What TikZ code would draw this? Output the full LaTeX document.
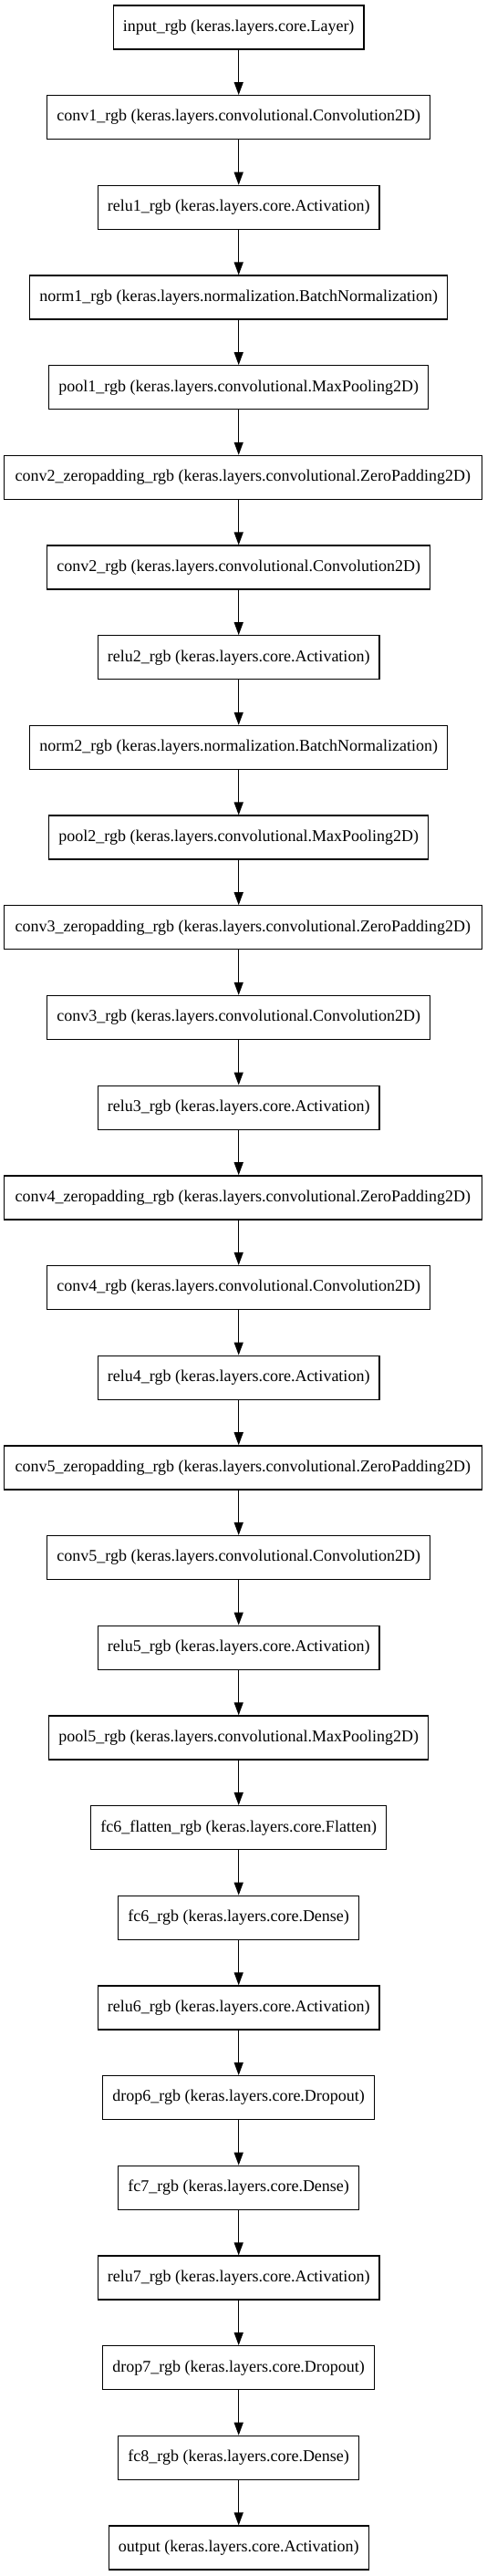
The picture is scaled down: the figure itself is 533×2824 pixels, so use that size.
\documentclass[tikz,border=0pt]{standalone}
\usepackage{fontspec}
\setmainfont{Liberation Serif}
\usetikzlibrary{arrows.meta}
\begin{document}
\begin{tikzpicture}[x=1pt,y=1pt,
  layer/.style={draw,line width=1.3pt,rectangle,minimum height=48pt,inner xsep=10.6pt,inner ysep=0pt,
    font=\fontsize{18}{20}\selectfont},
  wide/.style={minimum width=524pt,inner xsep=0pt},
  arr/.style={line width=1.3pt,-{Triangle[length=14pt,width=10pt]}}]
\useasboundingbox (0,0) rectangle (533,-2824);
\coordinate (c) at (261.7,0);
\foreach \x/\w/\t [count=\i from 0] in {
  261.7/{}/{input\_rgb (keras.layers.core.Layer)},
  261.7/{}/{conv1\_rgb (keras.layers.convolutional.Convolution2D)},
  261.7/{}/{relu1\_rgb (keras.layers.core.Activation)},
  261.7/{}/{norm1\_rgb (keras.layers.normalization.BatchNormalization)},
  261.7/{}/{pool1\_rgb (keras.layers.convolutional.MaxPooling2D)},
  266.3/wide/{conv2\_zeropadding\_rgb (keras.layers.convolutional.ZeroPadding2D)},
  261.7/{}/{conv2\_rgb (keras.layers.convolutional.Convolution2D)},
  261.7/{}/{relu2\_rgb (keras.layers.core.Activation)},
  261.7/{}/{norm2\_rgb (keras.layers.normalization.BatchNormalization)},
  261.7/{}/{pool2\_rgb (keras.layers.convolutional.MaxPooling2D)},
  266.3/wide/{conv3\_zeropadding\_rgb (keras.layers.convolutional.ZeroPadding2D)},
  261.7/{}/{conv3\_rgb (keras.layers.convolutional.Convolution2D)},
  261.7/{}/{relu3\_rgb (keras.layers.core.Activation)},
  266.3/wide/{conv4\_zeropadding\_rgb (keras.layers.convolutional.ZeroPadding2D)},
  261.7/{}/{conv4\_rgb (keras.layers.convolutional.Convolution2D)},
  261.7/{}/{relu4\_rgb (keras.layers.core.Activation)},
  266.3/wide/{conv5\_zeropadding\_rgb (keras.layers.convolutional.ZeroPadding2D)},
  261.7/{}/{conv5\_rgb (keras.layers.convolutional.Convolution2D)},
  261.7/{}/{relu5\_rgb (keras.layers.core.Activation)},
  261.7/{}/{pool5\_rgb (keras.layers.convolutional.MaxPooling2D)},
  261.7/{}/{fc6\_flatten\_rgb (keras.layers.core.Flatten)},
  261.7/{}/{fc6\_rgb (keras.layers.core.Dense)},
  261.7/{}/{relu6\_rgb (keras.layers.core.Activation)},
  261.7/{}/{drop6\_rgb (keras.layers.core.Dropout)},
  261.7/{}/{fc7\_rgb (keras.layers.core.Dense)},
  261.7/{}/{relu7\_rgb (keras.layers.core.Activation)},
  261.7/{}/{drop7\_rgb (keras.layers.core.Dropout)},
  261.7/{}/{fc8\_rgb (keras.layers.core.Dense)},
  261.7/{}/{output (keras.layers.core.Activation)}}
{
  \node[layer,\w] (n\i) at (\x,{-(30+98.68*\i)}) {\t};
}
\foreach \i [evaluate=\i as \j using int(\i+1)] in {0,...,27}
  \draw[arr] (n\i.south -| c) -- (n\j.north -| c);
\end{tikzpicture}
\end{document}
